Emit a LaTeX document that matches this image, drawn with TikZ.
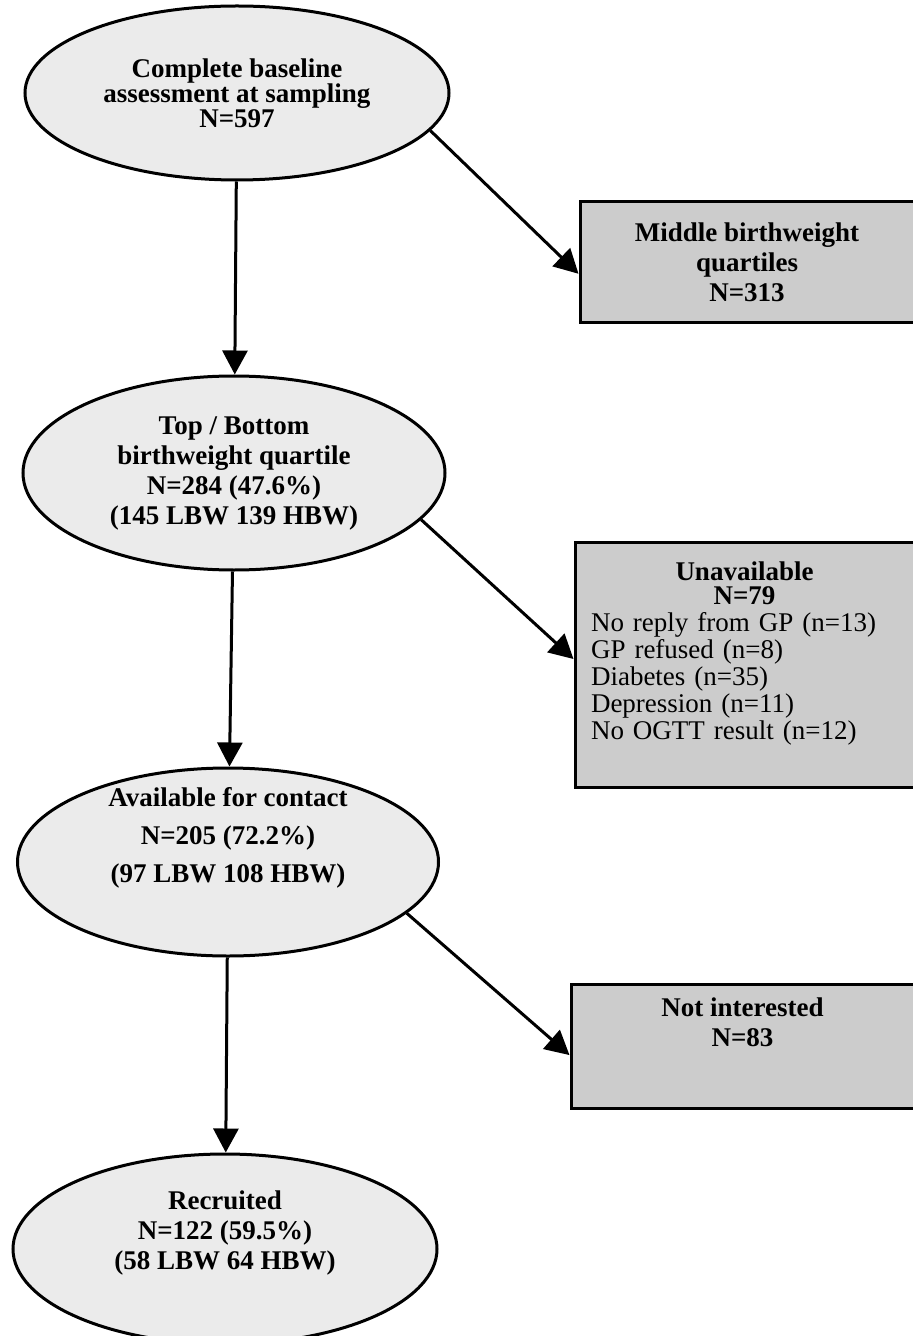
\documentclass[tikz,border=0pt]{standalone}
\usepackage{fontspec}
\setmainfont{Liberation Serif}
\usetikzlibrary{arrows.meta, positioning, shapes.geometric}

\begin{document}
\begin{tikzpicture}[
  x=0.5pt, y=-0.5pt,
  ell/.style={ellipse, draw=black, line width=1.5pt, fill=black!8,
              align=center, inner sep=0pt, font=\fontsize{13.5}{15}\selectfont\bfseries},
  box/.style={rectangle, draw=black, line width=1.5pt, fill=black!20,
              align=center, inner sep=4pt, font=\fontsize{13.5}{15}\selectfont\bfseries},
  arrow/.style={-{Triangle[length=12pt, width=12.5pt]}, line width=1.5pt}
]
\useasboundingbox (0,0) rectangle (912,1336);

\node[ell, minimum width=212pt, minimum height=87pt,
      font=\fontsize{13.5}{12.5}\selectfont\bfseries] (base) at (237,93)
      {Complete baseline\\assessment at sampling\\N=597};
\node[ell, minimum width=211pt, minimum height=97pt, below=96.5pt of base, xshift=-1.5pt] (quart)
      {Top / Bottom\\birthweight quartile\\N=284 (47.6\%)\\(145 LBW 139 HBW)};
\node[ell, minimum width=210.5pt, minimum height=94pt, below=97.5pt of quart, xshift=-3pt,
      inner ysep=-12pt, text depth=27pt,
      font=\fontsize{13.5}{19}\selectfont\bfseries] (avail)
      {Available for contact\\N=205 (72.2\%)\\(97 LBW 108 HBW)};
\node[ell, minimum width=212pt, minimum height=95pt, below=97.5pt of avail, xshift=-1.5pt,
      text depth=19pt] (recr)
      {Recruited\\N=122 (59.5\%)\\(58 LBW 64 HBW)};

\node[box, minimum width=167pt, minimum height=60.5pt, right=64pt of base, yshift=-84.5pt] (middle)
      {Middle birthweight\\quartiles\\N=313};
\node[box, minimum width=169.5pt, minimum height=122.5pt, text width=153.5pt, inner xsep=8pt,
      text depth=94pt, align=left, font=\fontsize{13.5}{13.5}\selectfont,
      right=63.5pt of quart, yshift=-96pt] (unavail)
      {\centering\textbf{Unavailable}\\[-1.5pt]\textbf{N=79}\par\raggedright
       No reply from GP (n=13)\\GP refused (n=8)\\Diabetes (n=35)\\Depression (n=11)\\No OGTT result (n=12)};
\node[box, minimum width=171.5pt, minimum height=62pt, right=64.75pt of avail, yshift=-92pt,
      text depth=24pt] (notint)
      {Not interested\\N=83};

\draw[arrow] (base) -- (quart);
\draw[arrow] (quart) -- (avail);
\draw[arrow] (avail) -- (recr);
\draw[arrow] (base.-11) -- (middle.184);
\draw[arrow] (quart.-14) -- (unavail.178);
\draw[arrow] (avail.-16) -- (notint.183);

\end{tikzpicture}
\end{document}
